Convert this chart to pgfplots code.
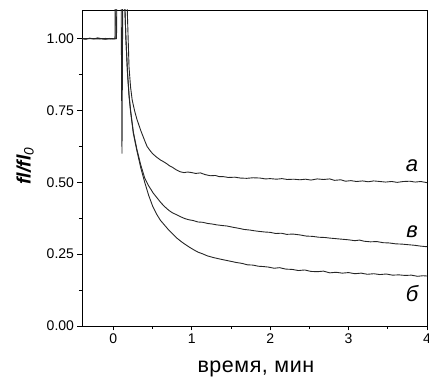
\documentclass[border=0pt]{standalone}
\usepackage{fontspec}
\setmainfont{Liberation Sans}
\usepackage{pgfplots}
\pgfplotsset{compat=1.18}
\usepackage{pgfplotstable}

\pgfplotstableread{
x y
-0.40 1.000
-0.35 0.998
-0.30 1.002
-0.25 0.999
-0.20 1.003
-0.15 1.000
-0.10 0.998
-0.05 1.001
0.00 0.999
0.02 1.000
0.04 1.60
0.15 1.60
0.175 1.12
0.20 0.90
0.22 0.83
0.24 0.787
0.27 0.75
0.30 0.72
0.35 0.68
0.40 0.645
0.43 0.625
0.47 0.610
0.50 0.600
0.55 0.588
0.60 0.578
0.64 0.572
0.68 0.565
0.72 0.557
0.75 0.553
0.80 0.544
0.85 0.537
0.90 0.534
0.95 0.536
1.00 0.534
1.05 0.531
1.11 0.533
1.17 0.527
1.24 0.523
1.30 0.524
1.35 0.520
1.40 0.520
1.47 0.517
1.55 0.518
1.62 0.515
1.70 0.514
1.78 0.516
1.87 0.515
1.94 0.512
2.00 0.513
2.08 0.511
2.15 0.513
2.22 0.510
2.30 0.511
2.38 0.509
2.45 0.511
2.52 0.508
2.60 0.512
2.68 0.510
2.76 0.512
2.82 0.507
2.90 0.509
2.96 0.504
3.03 0.506
3.10 0.503
3.18 0.505
3.25 0.502
3.32 0.505
3.40 0.503
3.47 0.501
3.55 0.503
3.62 0.500
3.70 0.503
3.78 0.504
3.85 0.501
3.92 0.503
4.00 0.499
}\curveA

\pgfplotstableread{
x y
-0.40 1.000
-0.30 1.001
-0.20 0.999
-0.10 1.001
0.00 1.000
0.03 1.000
0.05 1.60
0.09 1.60
0.11 0.60
0.128 1.60
0.135 1.60
0.145 1.12
0.16 1.00
0.18 0.88
0.20 0.80
0.22 0.745
0.255 0.67
0.30 0.61
0.35 0.55
0.40 0.50
0.45 0.455
0.50 0.418
0.55 0.390
0.60 0.368
0.65 0.352
0.70 0.336
0.75 0.322
0.81 0.306
0.86 0.295
0.90 0.287
0.96 0.276
1.02 0.266
1.08 0.257
1.14 0.251
1.20 0.244
1.28 0.238
1.36 0.233
1.43 0.229
1.50 0.225
1.57 0.221
1.64 0.218
1.71 0.213
1.78 0.212
1.85 0.208
1.91 0.207
1.98 0.205
2.05 0.201
2.12 0.203
2.20 0.198
2.28 0.197
2.36 0.193
2.44 0.195
2.52 0.190
2.60 0.189
2.68 0.191
2.76 0.185
2.84 0.187
2.92 0.184
3.00 0.186
3.08 0.182
3.16 0.184
3.24 0.180
3.32 0.182
3.40 0.179
3.48 0.181
3.56 0.177
3.64 0.178
3.72 0.176
3.80 0.177
3.88 0.173
3.95 0.175
4.00 0.174
}\curveB

\pgfplotstableread{
x y
-0.40 1.000
-0.30 1.000
-0.20 1.001
-0.10 0.999
0.00 1.000
0.04 1.000
0.06 1.60
0.13 1.60
0.142 1.15
0.16 1.00
0.18 0.885
0.20 0.805
0.22 0.75
0.255 0.675
0.30 0.615
0.35 0.56
0.40 0.515
0.45 0.488
0.51 0.462
0.56 0.445
0.61 0.428
0.66 0.414
0.71 0.402
0.76 0.393
0.81 0.387
0.86 0.380
0.91 0.374
0.96 0.370
1.02 0.367
1.08 0.362
1.14 0.361
1.20 0.357
1.26 0.355
1.32 0.352
1.38 0.350
1.45 0.348
1.52 0.344
1.60 0.340
1.67 0.336
1.74 0.334
1.81 0.331
1.87 0.329
1.94 0.327
2.00 0.326
2.07 0.322
2.14 0.323
2.21 0.319
2.29 0.320
2.38 0.317
2.46 0.313
2.54 0.312
2.62 0.309
2.70 0.308
2.76 0.306
2.84 0.304
2.92 0.302
3.00 0.300
3.08 0.297
3.14 0.299
3.20 0.295
3.28 0.293
3.36 0.294
3.44 0.290
3.52 0.289
3.60 0.286
3.68 0.285
3.76 0.283
3.84 0.281
3.92 0.278
4.00 0.276
}\curveV

\begin{document}
\begin{tikzpicture}
\useasboundingbox (0,0) rectangle (429pt,377pt);
\begin{axis}[
  at={(82pt,51pt)}, anchor=south west,
  scale only axis, width=345pt, height=316pt,
  xmin=-0.4, xmax=4, ymin=0, ymax=1.1,
  xtick={0,1,2,3,4}, ytick={0,0.25,0.5,0.75,1.0},
  minor xtick={-0.5,0.5,1.5,2.5,3.5},
  minor ytick={0.125,0.375,0.625,0.875},
  xtick pos=left, ytick pos=left,
  tick align=outside,
  major tick length=4.5pt, minor tick length=3pt,
  every tick/.style={black, line width=0.8pt},
  axis line style={line width=0.9pt},
  yticklabel style={/pgf/number format/fixed, /pgf/number format/fixed zerofill, /pgf/number format/precision=2},
  /pgf/number format/assume math mode=true,
  ticklabel style={font=\fontsize{14}{16}\selectfont},
  xlabel={\fontsize{21.5}{25}\selectfont\addfontfeatures{LetterSpace=2.5}время, мин},
  ylabel={\fontsize{19.5}{22}\selectfont\bfseries\itshape fl/fl$_{\mathit{0}}$},
  xlabel style={at={(axis description cs:0.504,-0.1456)}, anchor=base},
  ylabel style={at={(axis description cs:-0.165,0.506)}, anchor=center},
  clip=true,
]
\addplot[black!85, line width=0.9pt] table[x=x,y=y] {\curveA};
\addplot[black!85, line width=0.9pt] table[x=x,y=y] {\curveB};
\addplot[black!85, line width=0.9pt] table[x=x,y=y] {\curveV};
\node[anchor=base, font=\fontsize{22}{26}\selectfont\itshape] at (axis cs:3.81,0.537) {а};
\node[anchor=base, font=\fontsize{22}{26}\selectfont\itshape] at (axis cs:3.81,0.307) {в};
\node[anchor=base, font=\fontsize{22}{26}\selectfont\itshape] at (axis cs:3.81,0.084) {б};
\end{axis}
\end{tikzpicture}
\end{document}
